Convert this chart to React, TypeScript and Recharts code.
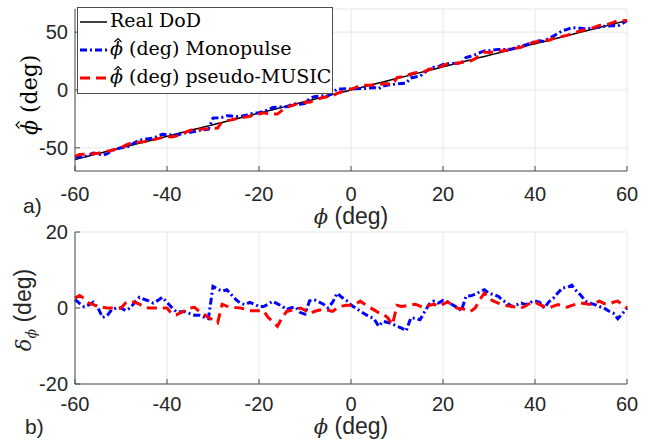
import React from "react";
import { LineChart, Line, XAxis, YAxis, CartesianGrid } from "recharts";

// true direction of departure (deg), 1 degree steps
const angles = [
  -60, -59, -58, -57, -56, -55, -54, -53, -52, -51, -50, -49, -48, -47, -46, -45, -44, -43, -42, -41,
  -40, -39, -38, -37, -36, -35, -34, -33, -32, -31, -30, -29, -28, -27, -26, -25, -24, -23, -22, -21,
  -20, -19, -18, -17, -16, -15, -14, -13, -12, -11, -10, -9, -8, -7, -6, -5, -4, -3, -2, -1,
  0, 1, 2, 3, 4, 5, 6, 7, 8, 9, 10, 11, 12, 13, 14, 15, 16, 17, 18, 19,
  20, 21, 22, 23, 24, 25, 26, 27, 28, 29, 30, 31, 32, 33, 34, 35, 36, 37, 38, 39,
  40, 41, 42, 43, 44, 45, 46, 47, 48, 49, 50, 51, 52, 53, 54, 55, 56, 57, 58, 59, 60,
];

// estimation error of the monopulse estimator (deg)
const monopulseError = [
  2.2, 1.2, 0.3, 0.8, 1.5, 0, -2.5, -2.0, -0.4, 0, 0, -0.7, 0, 1.5, 2.8, 2.3, 1.9, 1.3, 2.0, 2.8,
  1.5, 0.2, -1.0, -1.0, -1.0, -1.5, -1.9, -1.9, -2.4, -2.8, 5.7, 5.0, 4.4, 4.8, 3.5, 2.2, 1.2, 0.9, 1.5, 1.0,
  0.4, 0.4, 1.0, 1.8, 1.1, 0.5, -0.4, 0.1, 0.2, -1.2, -1.6, 1.9, 2.2, 1.6, 1.0, 0, 1.5, 3.9, 2.8, 2.0,
  0.8, 0, -0.8, -1.6, -2.3, -2.8, -4.8, -3.5, -3.8, -4.2, -4.8, -5.3, -6.0, -2.6, -2.7, -3.1, -1.0, 1.0, 1.8, 1.3,
  2.0, 1.6, 0.9, 0.2, -0.7, 3.1, 3.2, 3.6, 4.3, 4.8, 3.9, 3.5, 3.1, 2.0, 1.2, 0.4, 0.8, 1.3, 0.9, 1.5,
  1.9, 1.5, 0, 1.6, 2.6, 4.0, 5.3, 5.4, 6.0, 4.5, 3.3, 1.8, 1.3, 0.9, 0.4, 0, -0.8, -1.3, -2.8, -1.5, 0,
];

// estimation error of pseudo-MUSIC (deg)
const musicError = [
  2.6, 3.3, 2.5, 1.3, 0.9, 0.4, 0.2, 0, 0, 0, 0, 1.3, 1.8, 1.5, 1.0, 0.3, 0, 0, 0, 0,
  0, -1.5, -1.8, -1.2, -0.6, 0, 0.2, -0.9, -1.6, -2.5, -3.1, -3.9, 1.0, 0.5, 0.2, 0.1, 0, -0.3, -0.7, -0.7,
  -0.7, -0.7, -2.5, -3.6, -4.8, -2.6, -0.9, -0.6, -0.4, 0, -0.6, -1.6, -0.9, -0.6, -0.4, -0.6, -0.9, 0, 0.5, 0.7,
  0.7, 1.0, 1.8, 1.0, 0.2, -0.5, -1.2, -1.6, -2.6, -4.4, 0.7, 0.4, 0.6, 0.8, 1.0, 0.5, 0, 0.7, 1.0, 0.4,
  1.0, 1.6, 0.8, 0, -0.2, -0.4, -0.9, 0, 2.2, 3.9, 2.5, 1.8, 1.3, 0.9, 0.6, 0.4, 0.2, 0, 0.6, 1.3,
  1.5, 0.9, 0.4, 0, 0.5, 0.9, 0.5, 0.2, 0.7, 1.0, 1.3, 1.1, 0.9, 1.3, 1.8, 1.2, 1.0, 1.5, 1.8, 0.9, 0,
];

const xTicks = [-60, -40, -20, 0, 20, 40, 60];
const topYTicks = [-50, 0, 50];
const bottomYTicks = [-20, 0, 20];

const rows = angles.map((phi, i) => ({
  phi,
  real: phi,
  mono: phi + monopulseError[i],
  music: phi + musicError[i],
  monoErr: monopulseError[i],
  musicErr: musicError[i],
}));

const axisColor = "#4d4d4d";
const sans = "'Liberation Sans', Arial, sans-serif";
const serif = "'DejaVu Serif', serif";
const tickFont = { fill: "#262626", fontSize: 20, fontFamily: sans };

function Panel({
  top,
  height,
  marginTop,
  yDomain,
  yTicks,
  labelGap,
  series,
}: {
  top: number;
  height: number;
  marginTop: number;
  yDomain: [number, number];
  yTicks: number[];
  labelGap: number;
  series: { key: string; color: string; width: number; dash?: string }[];
}) {
  return (
    <div style={{ position: "absolute", left: 0, top }}>
      <LineChart
        width={654}
        height={height}
        data={rows}
        margin={{ top: marginTop, right: 27, bottom: 30, left: 15 }}
      >
        <CartesianGrid stroke="#e6e6e6" />
        <XAxis
          dataKey="phi"
          type="number"
          domain={[-60, 60]}
          ticks={xTicks}
          interval={0}
          height={30}
          tickSize={-5}
          tickMargin={labelGap + 5}
          axisLine={{ stroke: axisColor }}
          tickLine={{ stroke: axisColor }}
          tick={tickFont}
        />
        <XAxis
          xAxisId="top"
          orientation="top"
          dataKey="phi"
          type="number"
          domain={[-60, 60]}
          ticks={xTicks}
          interval={0}
          height={0}
          tickSize={-5}
          axisLine={{ stroke: axisColor }}
          tickLine={{ stroke: axisColor }}
          tick={false}
        />
        <YAxis
          type="number"
          domain={yDomain}
          ticks={yTicks}
          interval={0}
          width={60}
          tickSize={-5}
          tickMargin={12}
          axisLine={{ stroke: axisColor }}
          tickLine={{ stroke: axisColor }}
          tick={tickFont}
        />
        <YAxis
          yAxisId="right"
          orientation="right"
          type="number"
          domain={yDomain}
          ticks={yTicks}
          interval={0}
          width={0}
          tickSize={-5}
          axisLine={{ stroke: axisColor }}
          tickLine={{ stroke: axisColor }}
          tick={false}
        />
        {series.map((s) => (
          <Line
            key={s.key}
            dataKey={s.key}
            type="linear"
            stroke={s.color}
            strokeWidth={s.width}
            strokeDasharray={s.dash}
            dot={false}
            activeDot={false}
            isAnimationActive={false}
          />
        ))}
      </LineChart>
    </div>
  );
}

// small circumflex drawn above an italic phi
function Hat({ x, y, w = 3.5 }: { x: number; y: number; w?: number }) {
  return (
    <polyline
      points={`${x - w},${y + w} ${x},${y} ${x + w},${y + w}`}
      fill="none"
      stroke="#000"
      strokeWidth={1.1}
    />
  );
}

function Overlay() {
  return (
    <svg
      width={654}
      height={444}
      style={{ position: "absolute", left: 0, top: 0, pointerEvents: "none" }}
    >
      {/* legend */}
      <rect x={77.5} y={7.5} width={255} height={86} fill="#fff" stroke={axisColor} />
      <line x1={80} x2={107} y1={22} y2={22} stroke="#000" strokeWidth={1.5} />
      <line x1={80} x2={107} y1={50} y2={50} stroke="#0000ff" strokeWidth={3} strokeDasharray="7 3 2 3" />
      <line x1={80} x2={107} y1={78} y2={78} stroke="#ff0000" strokeWidth={3} strokeDasharray="10 6" />
      <g fontFamily={serif} fontSize={19} fill="#000">
        <text x={110} y={27}>Real DoD</text>
        <text x={110} y={55}>
          <tspan fontStyle="italic">ϕ</tspan> (deg) Monopulse
        </text>
        <text x={110} y={83}>
          <tspan fontStyle="italic">ϕ</tspan> (deg) pseudo-MUSIC
        </text>
      </g>
      <Hat x={118} y={38.5} />
      <Hat x={118} y={66.5} />

      {/* axis labels */}
      <g fill="#262626" fontFamily={sans} fontSize={23}>
        <text x={351} y={224} textAnchor="middle">
          <tspan fontFamily={serif} fontStyle="italic" fontSize={21}>ϕ</tspan> (deg)
        </text>
        <text x={351} y={434} textAnchor="middle">
          <tspan fontFamily={serif} fontStyle="italic" fontSize={21}>ϕ</tspan> (deg)
        </text>
        <text x={23} y={213} fontSize={21}>a)</text>
        <text x={25} y={434} fontSize={21}>b)</text>
        <g transform="translate(37,94) rotate(-90)">
          <text x={-41} y={0} fontFamily={serif} fontSize={22} fill="#000">
            <tspan fontStyle="italic">ϕ</tspan> (deg)
          </text>
          <Hat x={-31} y={-21} />
        </g>
        <text transform="translate(31,310) rotate(-90)" textAnchor="middle">
          <tspan fontFamily={serif} fontStyle="italic" fontSize={21}>δ</tspan>
          <tspan fontFamily={serif} fontStyle="italic" fontSize={14} dy={5}>ϕ</tspan>
          <tspan dy={-5}> (deg)</tspan>
        </text>
      </g>
    </svg>
  );
}

export default function App() {
  return (
    <div
      style={{
        position: "absolute",
        left: 0,
        top: 0,
        width: 654,
        height: 444,
        background: "#fff",
        overflow: "hidden",
      }}
    >
      <Panel
        top={0}
        height={231}
        marginTop={9}
        yDomain={[-70, 70]}
        yTicks={topYTicks}
        labelGap={16}
        series={[
          { key: "real", color: "#000000", width: 1.5 },
          { key: "mono", color: "#0000ff", width: 3, dash: "7 3 2 3" },
          { key: "music", color: "#ff0000", width: 3, dash: "10 6" },
        ]}
      />
      <Panel
        top={213}
        height={231}
        marginTop={19}
        yDomain={[-20, 20]}
        yTicks={bottomYTicks}
        labelGap={13}
        series={[
          { key: "monoErr", color: "#0000ff", width: 3, dash: "7 3 2 3" },
          { key: "musicErr", color: "#ff0000", width: 3, dash: "10 6" },
        ]}
      />
      <Overlay />
    </div>
  );
}
